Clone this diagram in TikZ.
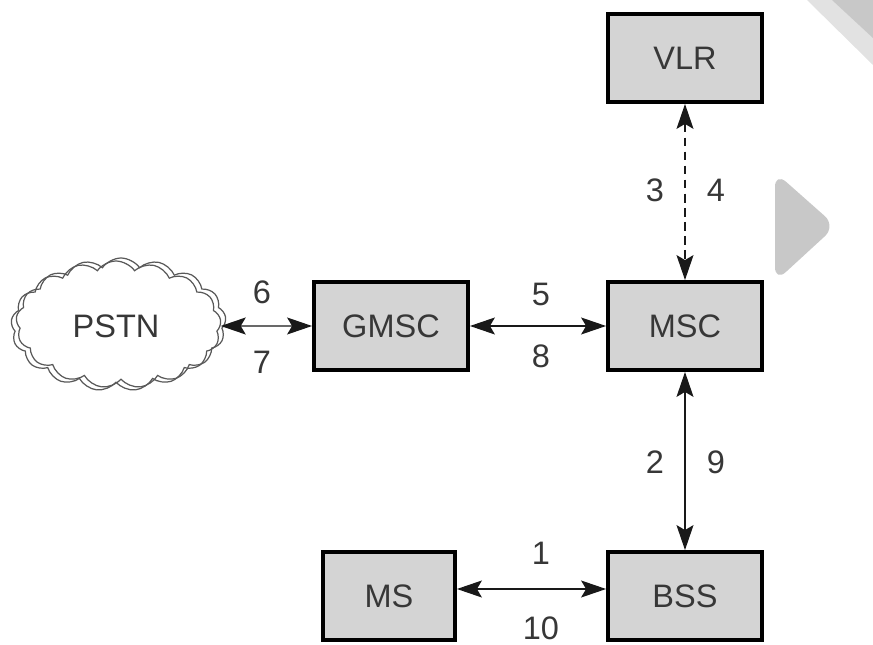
\documentclass[tikz,border=0pt]{standalone}
\usepackage{fontspec}
\setmainfont{Liberation Sans}
\usetikzlibrary{arrows.meta,shapes.symbols}
\definecolor{boxgray}{RGB}{212,212,212}
\definecolor{textgray}{RGB}{55,55,55}
\definecolor{marklight}{RGB}{226,226,226}
\definecolor{markdark}{RGB}{200,200,200}

\begin{document}
\begin{tikzpicture}[x=0.02cm,y=-0.02cm,
                      every node/.style={font=\fontsize{18.5}{22}\selectfont,text=textgray},
                      netbox/.style={draw=black,line width=2.2pt,fill=boxgray,
                                     minimum width=3.08cm,minimum height=1.76cm},
                      link/.style={line width=0.8pt,black!90,
                                   {Stealth[length=0.5cm,width=0.34cm,inset=0.1cm]}-{Stealth[length=0.5cm,width=0.34cm,inset=0.1cm]}},
                      cloudline/.style={cloud,cloud puffs=17,cloud puff arc=110,aspect=1.6,
                                        draw=black!65,line width=0.7pt,
                                        minimum width=4.2cm,minimum height=2.6cm}]
    \useasboundingbox (0,0) rectangle (873,645);
    % grey marks on the right
    \fill[marklight] (807,0)--(873,0)--(873,65)--cycle;
    \fill[markdark] (832,0)--(873,0)--(873,38)--cycle;
    \fill[markdark,rounded corners=0.3cm] (775,282)--(775,172)--(836,226)--cycle;

    \node[netbox] (vlr) at (685,58) {VLR};
    \node[netbox] (msc) at (685,326) {MSC};
    \node[netbox] (gmsc) at (391,326) {GMSC};
    \node[netbox] (bss) at (685,596) {BSS};
    \node[netbox,minimum width=2.64cm] (ms) at (389,596) {MS};
    \node[cloudline] (pstnback) at (121,323) {};
    \node[cloudline] (pstn) at (116,326) {PSTN};

    \draw[link] (pstn.east) -- (gmsc.west);
    \draw[link] (gmsc) -- (msc);
    \draw[link,dash pattern=on 5pt off 3pt] (vlr) -- (msc);
    \draw[link] (msc) -- (bss);
    \draw[link] ([yshift=0.14cm]ms.east) -- ([yshift=0.14cm]bss.west);

    \node (n6) at (262,292) {6};
    \node (n7) at (262,362) {7};
    \node (n5) at (541,294) {5};
    \node (n8) at (541,356) {8};
    \node (n3) at (655,190) {3};
    \node (n4) at (716,190) {4};
    \node (n2) at (655,462) {2};
    \node (n9) at (716,462) {9};
    \node (n1) at (541,553) {1};
    \node (n10) at (541,628) {10};
  \end{tikzpicture}
\end{document}
